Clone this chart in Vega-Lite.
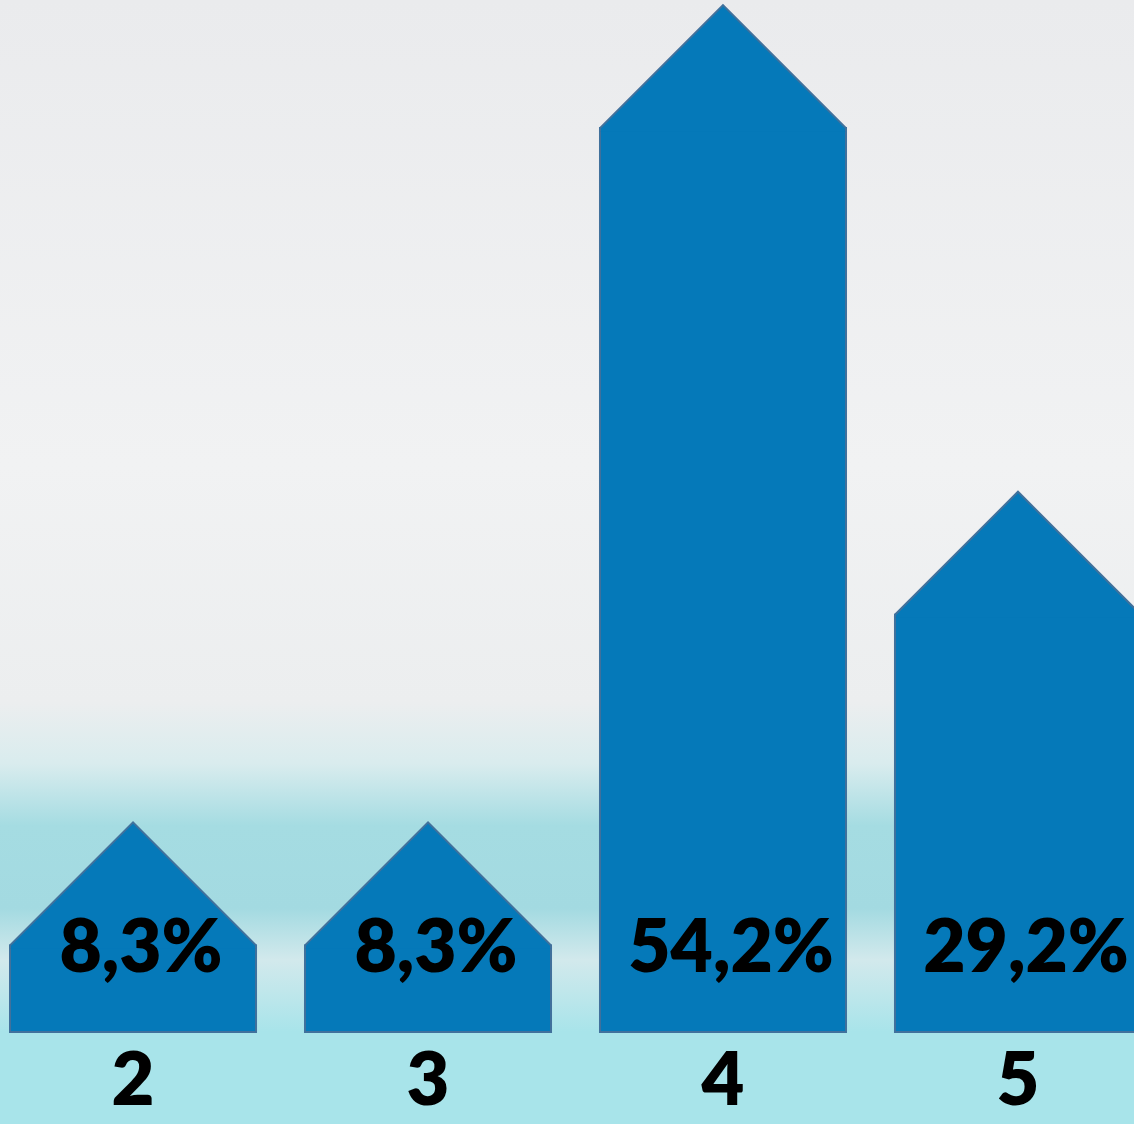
{
  "$schema": "https://vega.github.io/schema/vega-lite/v6.json",
  "width": 1134,
  "height": 1032,
  "autosize": {"type": "none"},
  "padding": {"left": 0, "top": 0, "right": 0, "bottom": 92},
  "background": "#a8e4ea",
  "data": {
    "values": [
      {"grade": "2", "share": 0.083},
      {"grade": "3", "share": 0.083},
      {"grade": "4", "share": 0.542},
      {"grade": "5", "share": 0.292}
    ]
  },
  "encoding": {
    "x": {
      "field": "grade",
      "type": "nominal",
      "sort": null,
      "scale": {"paddingInner": 0.166, "paddingOuter": 0, "range": [10, 1141]},
      "axis": {
        "title": null,
        "labelAngle": 0,
        "domain": false,
        "ticks": false,
        "labelFont": "Lato",
        "labelFontWeight": 800,
        "labelFontSize": 74,
        "labelColor": "#000000",
        "labelPadding": 14
      }
    }
  },
  "layer": [
    {
      "mark": {"type": "bar", "color": "#0579b9", "stroke": "#41719c", "strokeWidth": 2},
      "encoding": {
        "y": {
          "field": "share",
          "type": "quantitative",
          "scale": {"type": "pow", "exponent": 1.25, "domain": [0, 0.6026], "nice": false},
          "axis": null
        }
      }
    },
    {
      "mark": {
        "type": "point",
        "shape": "M-1,0.025L-1,0L0,-1L1,0L1,0.025",
        "size": 60516,
        "filled": true,
        "opacity": 1,
        "fill": "#0579b9",
        "stroke": "#41719c",
        "strokeWidth": 2
      },
      "encoding": {
        "y": {"field": "share", "type": "quantitative"}
      }
    },
    {
      "mark": {
        "type": "text",
        "font": "Lato",
        "fontWeight": 800,
        "fontSize": 73,
        "color": "#000000",
        "baseline": "alphabetic",
        "align": "center",
        "dx": 8,
        "dy": -60
      },
      "encoding": {
        "y": {"datum": 0},
        "text": {"field": "share", "type": "quantitative", "format": ".1%"}
      }
    }
  ],
  "config": {
    "locale": {
      "number": {
        "decimal": ",",
        "thousands": " ",
        "grouping": [3],
        "currency": ["", " ₽"]
      }
    },
    "view": {
      "stroke": null,
      "fill": {
        "gradient": "linear",
        "x1": 0, "y1": 0, "x2": 0, "y2": 1,
        "stops": [
          {"offset": 0, "color": "#eaebed"},
          {"offset": 0.45, "color": "#f1f2f3"},
          {"offset": 0.68, "color": "#eceeef"},
          {"offset": 0.74, "color": "#d9ecee"},
          {"offset": 0.8, "color": "#a5dce2"},
          {"offset": 0.88, "color": "#a3dae1"},
          {"offset": 0.93, "color": "#d2e9ec"},
          {"offset": 1, "color": "#a8e4ea"}
        ]
      }
    }
  }
}
